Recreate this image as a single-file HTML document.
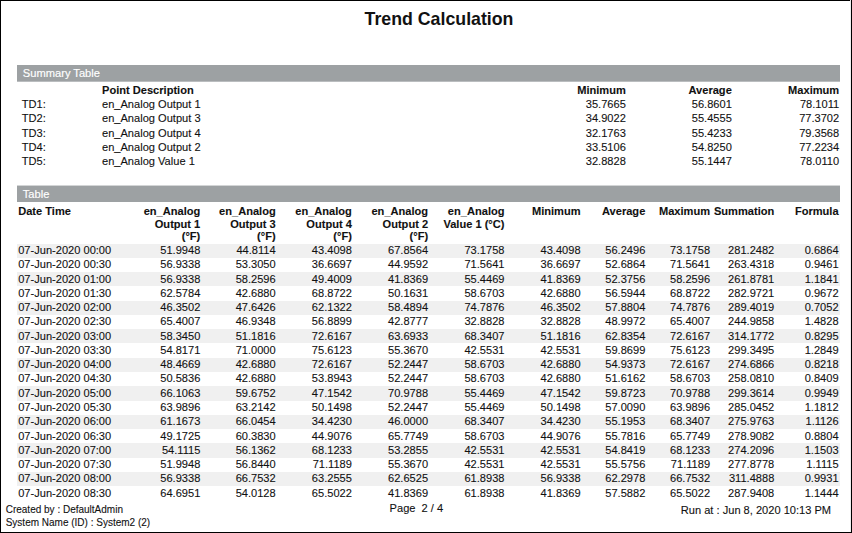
<!DOCTYPE html>
<html><head><meta charset="utf-8"><title>Trend Calculation</title>
<style>
html,body{margin:0;padding:0;background:#fff;}
body{width:852px;height:533px;position:relative;overflow:hidden;font-family:"Liberation Sans",sans-serif;font-size:11.08px;color:#111;}
.ln{position:absolute;background:#000;}
.t{position:absolute;white-space:nowrap;line-height:14px;height:14px;transform:scaleY(1.06);transform-origin:0 11px;-webkit-text-stroke:0.1px #111;}
.r{text-align:right;}
.f{font-size:10px;}
.b{font-weight:bold;}
.bar{position:absolute;left:17px;width:823px;height:16px;background:#9da1a3;}
.bar div{color:#fff;-webkit-text-stroke:0.15px #fff;font-size:11.15px;}
.sh{position:absolute;left:17px;width:823px;height:14px;background:#f0f0f0;}
#title{position:absolute;left:13px;width:852px;text-align:center;top:9px;font-size:17.75px;font-weight:bold;line-height:20px;color:#111;transform:scaleY(1.05);transform-origin:0 16px;}
</style></head><body>
<div class="ln" style="left:0;top:0;width:852px;height:1px"></div>
<div class="ln" style="left:0;top:0;width:1px;height:533px"></div>
<div class="ln" style="left:850px;top:0;width:1px;height:533px;background:#f0f0f0"></div>
<div class="ln" style="left:851px;top:0;width:1px;height:533px"></div>
<div class="ln" style="left:0;top:532px;width:852px;height:1px"></div>
<div id="title">Trend Calculation</div>
<div class="bar" style="top:65px;border-bottom:1px solid #babdbf"><div class="t" style="left:5.8px;top:1px">Summary Table</div></div>

<div class="t b" style="left:102px;top:83px">Point Description</div>
<div class="t b r" style="left:525.8px;width:100px;top:83px">Minimum</div>
<div class="t b r" style="left:631.8px;width:100px;top:83px">Average</div>
<div class="t b r" style="left:739.2px;width:100px;top:83px">Maximum</div>
<div class="t" style="left:21.8px;top:97px">TD1:</div>
<div class="t" style="left:102px;top:97px">en_Analog Output 1</div>
<div class="t r" style="left:525.8px;width:100px;top:97px">35.7665</div>
<div class="t r" style="left:631.8px;width:100px;top:97px">56.8601</div>
<div class="t r" style="left:739.2px;width:100px;top:97px">78.1011</div>
<div class="t" style="left:21.8px;top:111px">TD2:</div>
<div class="t" style="left:102px;top:111px">en_Analog Output 3</div>
<div class="t r" style="left:525.8px;width:100px;top:111px">34.9022</div>
<div class="t r" style="left:631.8px;width:100px;top:111px">55.4555</div>
<div class="t r" style="left:739.2px;width:100px;top:111px">77.3702</div>
<div class="t" style="left:21.8px;top:126px">TD3:</div>
<div class="t" style="left:102px;top:126px">en_Analog Output 4</div>
<div class="t r" style="left:525.8px;width:100px;top:126px">32.1763</div>
<div class="t r" style="left:631.8px;width:100px;top:126px">55.4233</div>
<div class="t r" style="left:739.2px;width:100px;top:126px">79.3568</div>
<div class="t" style="left:21.8px;top:140px">TD4:</div>
<div class="t" style="left:102px;top:140px">en_Analog Output 2</div>
<div class="t r" style="left:525.8px;width:100px;top:140px">33.5106</div>
<div class="t r" style="left:631.8px;width:100px;top:140px">54.8250</div>
<div class="t r" style="left:739.2px;width:100px;top:140px">77.2234</div>
<div class="t" style="left:21.8px;top:154px">TD5:</div>
<div class="t" style="left:102px;top:154px">en_Analog Value 1</div>
<div class="t r" style="left:525.8px;width:100px;top:154px">32.8828</div>
<div class="t r" style="left:631.8px;width:100px;top:154px">55.1447</div>
<div class="t r" style="left:739.2px;width:100px;top:154px">78.0110</div>
<div class="bar" style="top:185px;border-top:1px solid #d3d5d6"><div class="t" style="left:5.8px;top:1px">Table</div></div>
<div class="t b" style="left:18.2px;top:204px">Date Time</div>
<div class="t b r" style="left:120.3px;width:80px;top:204px">en_Analog</div>
<div class="t b r" style="left:120.3px;width:80px;top:217px">Output 1</div>
<div class="t b r" style="left:120.3px;width:80px;top:229px">(°F)</div>
<div class="t b r" style="left:195.7px;width:80px;top:204px">en_Analog</div>
<div class="t b r" style="left:195.7px;width:80px;top:217px">Output 3</div>
<div class="t b r" style="left:195.7px;width:80px;top:229px">(°F)</div>
<div class="t b r" style="left:271.9px;width:80px;top:204px">en_Analog</div>
<div class="t b r" style="left:271.9px;width:80px;top:217px">Output 4</div>
<div class="t b r" style="left:271.9px;width:80px;top:229px">(°F)</div>
<div class="t b r" style="left:348.1px;width:80px;top:204px">en_Analog</div>
<div class="t b r" style="left:348.1px;width:80px;top:217px">Output 2</div>
<div class="t b r" style="left:348.1px;width:80px;top:229px">(°F)</div>
<div class="t b r" style="left:424.5px;width:80px;top:204px">en_Analog</div>
<div class="t b r" style="left:424.5px;width:80px;top:217px">Value 1 (°C)</div>
<div class="t b r" style="left:500.6px;width:80px;top:204px">Minimum</div>
<div class="t b r" style="left:565.3px;width:80px;top:204px">Average</div>
<div class="t b r" style="left:630.1px;width:80px;top:204px">Maximum</div>
<div class="t b r" style="left:694.3px;width:80px;top:204px">Summation</div>
<div class="t b r" style="left:758.6px;width:80px;top:204px">Formula</div>
<div class="sh" style="top:244px;height:14px"></div>
<div class="t" style="left:18.2px;top:243px">07-Jun-2020 00:00</div>
<div class="t r" style="left:130.3px;width:70px;top:243px">51.9948</div>
<div class="t r" style="left:205.7px;width:70px;top:243px">44.8114</div>
<div class="t r" style="left:281.9px;width:70px;top:243px">43.4098</div>
<div class="t r" style="left:358.1px;width:70px;top:243px">67.8564</div>
<div class="t r" style="left:434.5px;width:70px;top:243px">73.1758</div>
<div class="t r" style="left:510.6px;width:70px;top:243px">43.4098</div>
<div class="t r" style="left:575.3px;width:70px;top:243px">56.2496</div>
<div class="t r" style="left:640.1px;width:70px;top:243px">73.1758</div>
<div class="t r" style="left:704.3px;width:70px;top:243px">281.2482</div>
<div class="t r" style="left:768.6px;width:70px;top:243px">0.6864</div>
<div class="t" style="left:18.2px;top:257px">07-Jun-2020 00:30</div>
<div class="t r" style="left:130.3px;width:70px;top:257px">56.9338</div>
<div class="t r" style="left:205.7px;width:70px;top:257px">53.3050</div>
<div class="t r" style="left:281.9px;width:70px;top:257px">36.6697</div>
<div class="t r" style="left:358.1px;width:70px;top:257px">44.9592</div>
<div class="t r" style="left:434.5px;width:70px;top:257px">71.5641</div>
<div class="t r" style="left:510.6px;width:70px;top:257px">36.6697</div>
<div class="t r" style="left:575.3px;width:70px;top:257px">52.6864</div>
<div class="t r" style="left:640.1px;width:70px;top:257px">71.5641</div>
<div class="t r" style="left:704.3px;width:70px;top:257px">263.4318</div>
<div class="t r" style="left:768.6px;width:70px;top:257px">0.9461</div>
<div class="sh" style="top:272px;height:14px"></div>
<div class="t" style="left:18.2px;top:272px">07-Jun-2020 01:00</div>
<div class="t r" style="left:130.3px;width:70px;top:272px">56.9338</div>
<div class="t r" style="left:205.7px;width:70px;top:272px">58.2596</div>
<div class="t r" style="left:281.9px;width:70px;top:272px">49.4009</div>
<div class="t r" style="left:358.1px;width:70px;top:272px">41.8369</div>
<div class="t r" style="left:434.5px;width:70px;top:272px">55.4469</div>
<div class="t r" style="left:510.6px;width:70px;top:272px">41.8369</div>
<div class="t r" style="left:575.3px;width:70px;top:272px">52.3756</div>
<div class="t r" style="left:640.1px;width:70px;top:272px">58.2596</div>
<div class="t r" style="left:704.3px;width:70px;top:272px">261.8781</div>
<div class="t r" style="left:768.6px;width:70px;top:272px">1.1841</div>
<div class="t" style="left:18.2px;top:286px">07-Jun-2020 01:30</div>
<div class="t r" style="left:130.3px;width:70px;top:286px">62.5784</div>
<div class="t r" style="left:205.7px;width:70px;top:286px">42.6880</div>
<div class="t r" style="left:281.9px;width:70px;top:286px">68.8722</div>
<div class="t r" style="left:358.1px;width:70px;top:286px">50.1631</div>
<div class="t r" style="left:434.5px;width:70px;top:286px">58.6703</div>
<div class="t r" style="left:510.6px;width:70px;top:286px">42.6880</div>
<div class="t r" style="left:575.3px;width:70px;top:286px">56.5944</div>
<div class="t r" style="left:640.1px;width:70px;top:286px">68.8722</div>
<div class="t r" style="left:704.3px;width:70px;top:286px">282.9721</div>
<div class="t r" style="left:768.6px;width:70px;top:286px">0.9672</div>
<div class="sh" style="top:301px;height:14px"></div>
<div class="t" style="left:18.2px;top:300px">07-Jun-2020 02:00</div>
<div class="t r" style="left:130.3px;width:70px;top:300px">46.3502</div>
<div class="t r" style="left:205.7px;width:70px;top:300px">47.6426</div>
<div class="t r" style="left:281.9px;width:70px;top:300px">62.1322</div>
<div class="t r" style="left:358.1px;width:70px;top:300px">58.4894</div>
<div class="t r" style="left:434.5px;width:70px;top:300px">74.7876</div>
<div class="t r" style="left:510.6px;width:70px;top:300px">46.3502</div>
<div class="t r" style="left:575.3px;width:70px;top:300px">57.8804</div>
<div class="t r" style="left:640.1px;width:70px;top:300px">74.7876</div>
<div class="t r" style="left:704.3px;width:70px;top:300px">289.4019</div>
<div class="t r" style="left:768.6px;width:70px;top:300px">0.7052</div>
<div class="t" style="left:18.2px;top:314px">07-Jun-2020 02:30</div>
<div class="t r" style="left:130.3px;width:70px;top:314px">65.4007</div>
<div class="t r" style="left:205.7px;width:70px;top:314px">46.9348</div>
<div class="t r" style="left:281.9px;width:70px;top:314px">56.8899</div>
<div class="t r" style="left:358.1px;width:70px;top:314px">42.8777</div>
<div class="t r" style="left:434.5px;width:70px;top:314px">32.8828</div>
<div class="t r" style="left:510.6px;width:70px;top:314px">32.8828</div>
<div class="t r" style="left:575.3px;width:70px;top:314px">48.9972</div>
<div class="t r" style="left:640.1px;width:70px;top:314px">65.4007</div>
<div class="t r" style="left:704.3px;width:70px;top:314px">244.9858</div>
<div class="t r" style="left:768.6px;width:70px;top:314px">1.4828</div>
<div class="sh" style="top:329px;height:14px"></div>
<div class="t" style="left:18.2px;top:329px">07-Jun-2020 03:00</div>
<div class="t r" style="left:130.3px;width:70px;top:329px">58.3450</div>
<div class="t r" style="left:205.7px;width:70px;top:329px">51.1816</div>
<div class="t r" style="left:281.9px;width:70px;top:329px">72.6167</div>
<div class="t r" style="left:358.1px;width:70px;top:329px">63.6933</div>
<div class="t r" style="left:434.5px;width:70px;top:329px">68.3407</div>
<div class="t r" style="left:510.6px;width:70px;top:329px">51.1816</div>
<div class="t r" style="left:575.3px;width:70px;top:329px">62.8354</div>
<div class="t r" style="left:640.1px;width:70px;top:329px">72.6167</div>
<div class="t r" style="left:704.3px;width:70px;top:329px">314.1772</div>
<div class="t r" style="left:768.6px;width:70px;top:329px">0.8295</div>
<div class="t" style="left:18.2px;top:343px">07-Jun-2020 03:30</div>
<div class="t r" style="left:130.3px;width:70px;top:343px">54.8171</div>
<div class="t r" style="left:205.7px;width:70px;top:343px">71.0000</div>
<div class="t r" style="left:281.9px;width:70px;top:343px">75.6123</div>
<div class="t r" style="left:358.1px;width:70px;top:343px">55.3670</div>
<div class="t r" style="left:434.5px;width:70px;top:343px">42.5531</div>
<div class="t r" style="left:510.6px;width:70px;top:343px">42.5531</div>
<div class="t r" style="left:575.3px;width:70px;top:343px">59.8699</div>
<div class="t r" style="left:640.1px;width:70px;top:343px">75.6123</div>
<div class="t r" style="left:704.3px;width:70px;top:343px">299.3495</div>
<div class="t r" style="left:768.6px;width:70px;top:343px">1.2849</div>
<div class="sh" style="top:358px;height:14px"></div>
<div class="t" style="left:18.2px;top:357px">07-Jun-2020 04:00</div>
<div class="t r" style="left:130.3px;width:70px;top:357px">48.4669</div>
<div class="t r" style="left:205.7px;width:70px;top:357px">42.6880</div>
<div class="t r" style="left:281.9px;width:70px;top:357px">72.6167</div>
<div class="t r" style="left:358.1px;width:70px;top:357px">52.2447</div>
<div class="t r" style="left:434.5px;width:70px;top:357px">58.6703</div>
<div class="t r" style="left:510.6px;width:70px;top:357px">42.6880</div>
<div class="t r" style="left:575.3px;width:70px;top:357px">54.9373</div>
<div class="t r" style="left:640.1px;width:70px;top:357px">72.6167</div>
<div class="t r" style="left:704.3px;width:70px;top:357px">274.6866</div>
<div class="t r" style="left:768.6px;width:70px;top:357px">0.8218</div>
<div class="t" style="left:18.2px;top:371px">07-Jun-2020 04:30</div>
<div class="t r" style="left:130.3px;width:70px;top:371px">50.5836</div>
<div class="t r" style="left:205.7px;width:70px;top:371px">42.6880</div>
<div class="t r" style="left:281.9px;width:70px;top:371px">53.8943</div>
<div class="t r" style="left:358.1px;width:70px;top:371px">52.2447</div>
<div class="t r" style="left:434.5px;width:70px;top:371px">58.6703</div>
<div class="t r" style="left:510.6px;width:70px;top:371px">42.6880</div>
<div class="t r" style="left:575.3px;width:70px;top:371px">51.6162</div>
<div class="t r" style="left:640.1px;width:70px;top:371px">58.6703</div>
<div class="t r" style="left:704.3px;width:70px;top:371px">258.0810</div>
<div class="t r" style="left:768.6px;width:70px;top:371px">0.8409</div>
<div class="sh" style="top:386px;height:15px"></div>
<div class="t" style="left:18.2px;top:386px">07-Jun-2020 05:00</div>
<div class="t r" style="left:130.3px;width:70px;top:386px">66.1063</div>
<div class="t r" style="left:205.7px;width:70px;top:386px">59.6752</div>
<div class="t r" style="left:281.9px;width:70px;top:386px">47.1542</div>
<div class="t r" style="left:358.1px;width:70px;top:386px">70.9788</div>
<div class="t r" style="left:434.5px;width:70px;top:386px">55.4469</div>
<div class="t r" style="left:510.6px;width:70px;top:386px">47.1542</div>
<div class="t r" style="left:575.3px;width:70px;top:386px">59.8723</div>
<div class="t r" style="left:640.1px;width:70px;top:386px">70.9788</div>
<div class="t r" style="left:704.3px;width:70px;top:386px">299.3614</div>
<div class="t r" style="left:768.6px;width:70px;top:386px">0.9949</div>
<div class="t" style="left:18.2px;top:400px">07-Jun-2020 05:30</div>
<div class="t r" style="left:130.3px;width:70px;top:400px">63.9896</div>
<div class="t r" style="left:205.7px;width:70px;top:400px">63.2142</div>
<div class="t r" style="left:281.9px;width:70px;top:400px">50.1498</div>
<div class="t r" style="left:358.1px;width:70px;top:400px">52.2447</div>
<div class="t r" style="left:434.5px;width:70px;top:400px">55.4469</div>
<div class="t r" style="left:510.6px;width:70px;top:400px">50.1498</div>
<div class="t r" style="left:575.3px;width:70px;top:400px">57.0090</div>
<div class="t r" style="left:640.1px;width:70px;top:400px">63.9896</div>
<div class="t r" style="left:704.3px;width:70px;top:400px">285.0452</div>
<div class="t r" style="left:768.6px;width:70px;top:400px">1.1812</div>
<div class="sh" style="top:415px;height:14px"></div>
<div class="t" style="left:18.2px;top:414px">07-Jun-2020 06:00</div>
<div class="t r" style="left:130.3px;width:70px;top:414px">61.1673</div>
<div class="t r" style="left:205.7px;width:70px;top:414px">66.0454</div>
<div class="t r" style="left:281.9px;width:70px;top:414px">34.4230</div>
<div class="t r" style="left:358.1px;width:70px;top:414px">46.0000</div>
<div class="t r" style="left:434.5px;width:70px;top:414px">68.3407</div>
<div class="t r" style="left:510.6px;width:70px;top:414px">34.4230</div>
<div class="t r" style="left:575.3px;width:70px;top:414px">55.1953</div>
<div class="t r" style="left:640.1px;width:70px;top:414px">68.3407</div>
<div class="t r" style="left:704.3px;width:70px;top:414px">275.9763</div>
<div class="t r" style="left:768.6px;width:70px;top:414px">1.1126</div>
<div class="t" style="left:18.2px;top:429px">07-Jun-2020 06:30</div>
<div class="t r" style="left:130.3px;width:70px;top:429px">49.1725</div>
<div class="t r" style="left:205.7px;width:70px;top:429px">60.3830</div>
<div class="t r" style="left:281.9px;width:70px;top:429px">44.9076</div>
<div class="t r" style="left:358.1px;width:70px;top:429px">65.7749</div>
<div class="t r" style="left:434.5px;width:70px;top:429px">58.6703</div>
<div class="t r" style="left:510.6px;width:70px;top:429px">44.9076</div>
<div class="t r" style="left:575.3px;width:70px;top:429px">55.7816</div>
<div class="t r" style="left:640.1px;width:70px;top:429px">65.7749</div>
<div class="t r" style="left:704.3px;width:70px;top:429px">278.9082</div>
<div class="t r" style="left:768.6px;width:70px;top:429px">0.8804</div>
<div class="sh" style="top:443px;height:15px"></div>
<div class="t" style="left:18.2px;top:443px">07-Jun-2020 07:00</div>
<div class="t r" style="left:130.3px;width:70px;top:443px">54.1115</div>
<div class="t r" style="left:205.7px;width:70px;top:443px">56.1362</div>
<div class="t r" style="left:281.9px;width:70px;top:443px">68.1233</div>
<div class="t r" style="left:358.1px;width:70px;top:443px">53.2855</div>
<div class="t r" style="left:434.5px;width:70px;top:443px">42.5531</div>
<div class="t r" style="left:510.6px;width:70px;top:443px">42.5531</div>
<div class="t r" style="left:575.3px;width:70px;top:443px">54.8419</div>
<div class="t r" style="left:640.1px;width:70px;top:443px">68.1233</div>
<div class="t r" style="left:704.3px;width:70px;top:443px">274.2096</div>
<div class="t r" style="left:768.6px;width:70px;top:443px">1.1503</div>
<div class="t" style="left:18.2px;top:457px">07-Jun-2020 07:30</div>
<div class="t r" style="left:130.3px;width:70px;top:457px">51.9948</div>
<div class="t r" style="left:205.7px;width:70px;top:457px">56.8440</div>
<div class="t r" style="left:281.9px;width:70px;top:457px">71.1189</div>
<div class="t r" style="left:358.1px;width:70px;top:457px">55.3670</div>
<div class="t r" style="left:434.5px;width:70px;top:457px">42.5531</div>
<div class="t r" style="left:510.6px;width:70px;top:457px">42.5531</div>
<div class="t r" style="left:575.3px;width:70px;top:457px">55.5756</div>
<div class="t r" style="left:640.1px;width:70px;top:457px">71.1189</div>
<div class="t r" style="left:704.3px;width:70px;top:457px">277.8778</div>
<div class="t r" style="left:768.6px;width:70px;top:457px">1.1115</div>
<div class="sh" style="top:472px;height:14px"></div>
<div class="t" style="left:18.2px;top:471px">07-Jun-2020 08:00</div>
<div class="t r" style="left:130.3px;width:70px;top:471px">56.9338</div>
<div class="t r" style="left:205.7px;width:70px;top:471px">66.7532</div>
<div class="t r" style="left:281.9px;width:70px;top:471px">63.2555</div>
<div class="t r" style="left:358.1px;width:70px;top:471px">62.6525</div>
<div class="t r" style="left:434.5px;width:70px;top:471px">61.8938</div>
<div class="t r" style="left:510.6px;width:70px;top:471px">56.9338</div>
<div class="t r" style="left:575.3px;width:70px;top:471px">62.2978</div>
<div class="t r" style="left:640.1px;width:70px;top:471px">66.7532</div>
<div class="t r" style="left:704.3px;width:70px;top:471px">311.4888</div>
<div class="t r" style="left:768.6px;width:70px;top:471px">0.9931</div>
<div class="t" style="left:18.2px;top:486px">07-Jun-2020 08:30</div>
<div class="t r" style="left:130.3px;width:70px;top:486px">64.6951</div>
<div class="t r" style="left:205.7px;width:70px;top:486px">54.0128</div>
<div class="t r" style="left:281.9px;width:70px;top:486px">65.5022</div>
<div class="t r" style="left:358.1px;width:70px;top:486px">41.8369</div>
<div class="t r" style="left:434.5px;width:70px;top:486px">61.8938</div>
<div class="t r" style="left:510.6px;width:70px;top:486px">41.8369</div>
<div class="t r" style="left:575.3px;width:70px;top:486px">57.5882</div>
<div class="t r" style="left:640.1px;width:70px;top:486px">65.5022</div>
<div class="t r" style="left:704.3px;width:70px;top:486px">287.9408</div>
<div class="t r" style="left:768.6px;width:70px;top:486px">1.1444</div>
<div class="t f" style="left:5.7px;top:503px">Created by : DefaultAdmin</div>
<div class="t f" style="left:5.7px;top:516px">System Name (ID) : System2 (2)</div>
<div class="t" style="left:389.6px;top:501px">Page&nbsp; 2 / 4</div>
<div class="t r" style="left:631.1px;width:200px;top:503px">Run at : Jun 8, 2020 10:13 PM</div>
</body></html>
